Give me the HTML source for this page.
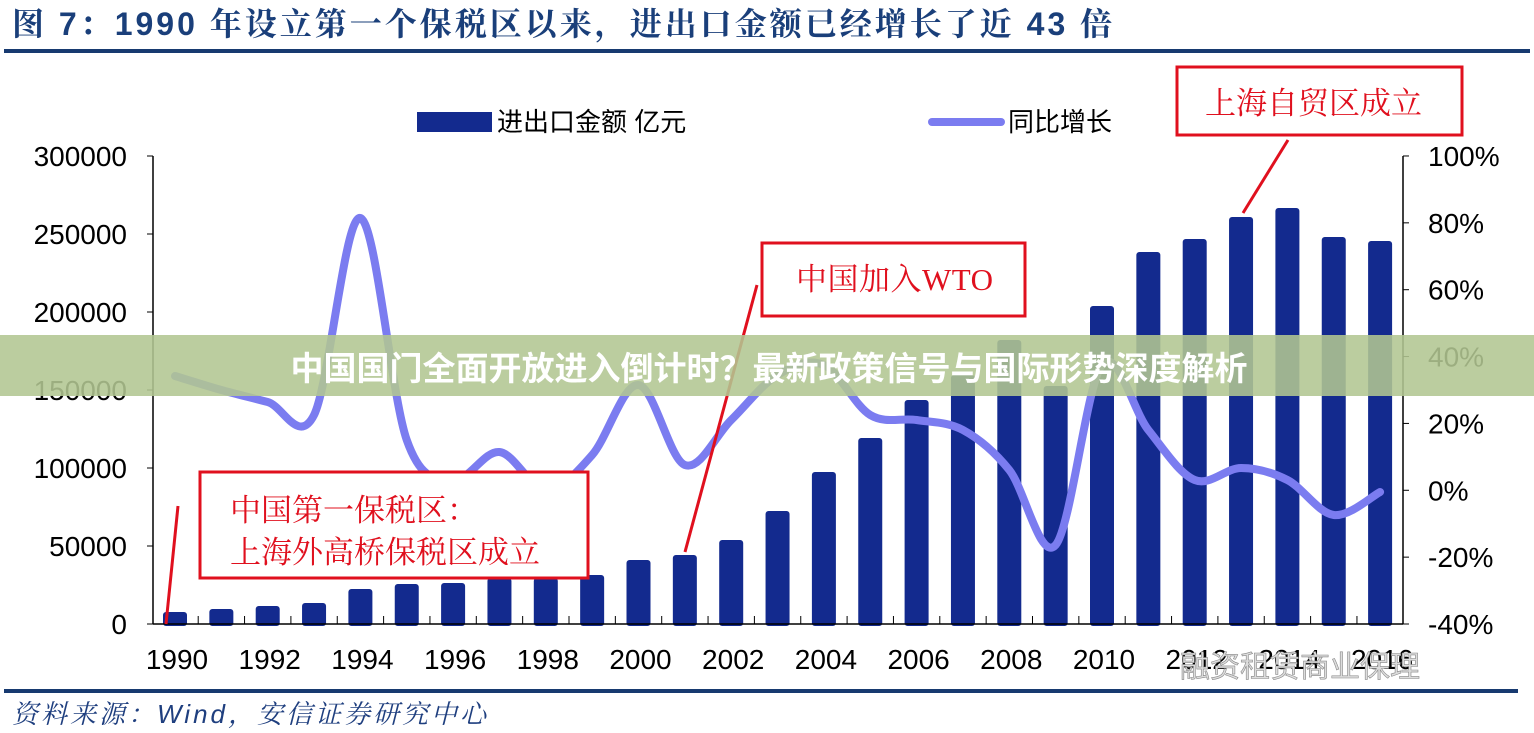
<!DOCTYPE html>
<html><head><meta charset="utf-8"><style>
body{margin:0;background:#fff;width:1534px;height:733px;overflow:hidden;position:relative;font-family:"Liberation Sans","Noto Sans CJK SC",sans-serif}
svg{position:absolute;left:0;top:0}
</style></head><body>
<svg id="s" width="1534" height="733" xmlns="http://www.w3.org/2000/svg">
<text x="12" y="35" font-size="32" font-weight="bold" fill="#1a3f7a" letter-spacing="3" font-family="Liberation Sans,Noto Serif CJK SC,serif">图 7：1990 年设立第一个保税区以来，进出口金额已经增长了近 43 倍</text>
<rect x="4" y="49" width="1526" height="4" fill="#173a70"/>
<rect x="4" y="689" width="1514" height="4" fill="#173a70"/>
<text x="12" y="723" font-size="26" font-style="italic" fill="#1f3f7f" letter-spacing="3" font-family="Liberation Sans,Noto Serif CJK SC,serif">资料来源：Wind，安信证券研究中心</text>
<g id="bars"></g>
<line x1="153" y1="156" x2="153" y2="624" stroke="#000" stroke-width="1.5"/>
<line x1="1403" y1="156" x2="1403" y2="624" stroke="#000" stroke-width="1.5"/>
<line x1="153" y1="624" x2="1403" y2="624" stroke="#000" stroke-width="1.5"/>
<g id="ticks" stroke="#000" stroke-width="1"></g>
<g font-size="28" fill="#000" text-anchor="end" id="yl"></g>
<g font-size="28" fill="#000" id="yr"></g>
<g font-size="28" fill="#000" text-anchor="middle" id="xl"></g>
<path id="ln" fill="none" stroke="#7b7cf0" stroke-width="8" stroke-linejoin="round" stroke-linecap="round"/>
<rect x="417" y="112" width="75" height="20" fill="#132a8e"/>
<text x="497" y="131" font-size="26">进出口金额 亿元</text>
<line x1="932" y1="122" x2="1001" y2="122" stroke="#7b7cf0" stroke-width="8" stroke-linecap="round"/>
<text x="1008" y="131" font-size="26">同比增长</text>
<g stroke="#e0101e" stroke-width="3" fill="none">
<rect x="200" y="472" width="388" height="106" fill="#fff"/>
<line x1="178" y1="506" x2="166" y2="624"/>
<rect x="762" y="243" width="263" height="73"/>
<line x1="757" y1="285" x2="685" y2="552"/>
<rect x="1177" y="67" width="285" height="68" fill="#fff"/>
<line x1="1288" y1="140" x2="1243" y2="213"/>
</g>
<g fill="#e0101e" font-size="31" font-family="Liberation Serif,Noto Serif CJK SC,serif">
<text x="230" y="521">中国第一保税区：</text>
<text x="230" y="563">上海外高桥保税区成立</text>
<text x="796" y="290" textLength="197">中国加入WTO</text>
<text x="1205" y="114">上海自贸区成立</text>
</g>
<rect x="0" y="335" width="1534" height="61" fill="rgb(178,198,146)" fill-opacity="0.88"/>
<text x="769" y="380" font-size="33" font-weight="bold" fill="#fff" text-anchor="middle">中国国门全面开放进入倒计时？最新政策信号与国际形势深度解析</text>
<text x="1180" y="677" font-size="30" fill="#ddd" stroke="#888" stroke-width="0.6">融资租赁商业保理</text>
</svg>
<script>
var NS="http://www.w3.org/2000/svg";
function el(p,t,a,txt){var e=document.createElementNS(NS,t);for(var k in a)e.setAttribute(k,a[k]);if(txt)e.textContent=txt;document.getElementById(p).appendChild(e);}
var tops=[612,609,606,603,589,584,583,578,578,575,560,555,540,511,472,438,400,375,340,386,306,252,239,217,208,237,241];
var ly=[376,390,402,415,218,440,480,452,490,455,385,465,420,375,365,415,420,430,470,545,365,430,480,468,480,515,492];
var pts=[];
for(var i=0;i<27;i++){var c=175+46.35*i;
el("bars","rect",{x:c-12,y:tops[i],width:24,height:624-tops[i]+2,rx:3,fill:"#132a8e"});
pts.push([c,ly[i]]);
if(i%2==0)el("xl","text",{x:c+2,y:669},String(1990+i));
var tx=c+23.2;if(i<26)el("ticks","line",{x1:tx,y1:616,x2:tx,y2:624});}
for(var j=0;j<=6;j++){var y=624-78*j;el("yl","text",{x:127,y:y+10},String(50000*j));el("ticks","line",{x1:147,y1:y,x2:153,y2:y});}
for(var j=0;j<=7;j++){var y=624-66.86*j;el("yr","text",{x:1428,y:y+10},(-40+20*j)+"%");el("ticks","line",{x1:1403,y1:y,x2:1409,y2:y});}
var d="M"+pts[0];
for(var i=0;i<pts.length-1;i++){var p0=pts[Math.max(0,i-1)],p1=pts[i],p2=pts[i+1],p3=pts[Math.min(pts.length-1,i+2)];
d+=" C"+(p1[0]+(p2[0]-p0[0])/6)+","+(p1[1]+(p2[1]-p0[1])/6)+" "+(p2[0]-(p3[0]-p1[0])/6)+","+(p2[1]-(p3[1]-p1[1])/6)+" "+p2[0]+","+p2[1];}
document.getElementById("ln").setAttribute("d",d);
</script>
</body></html>
